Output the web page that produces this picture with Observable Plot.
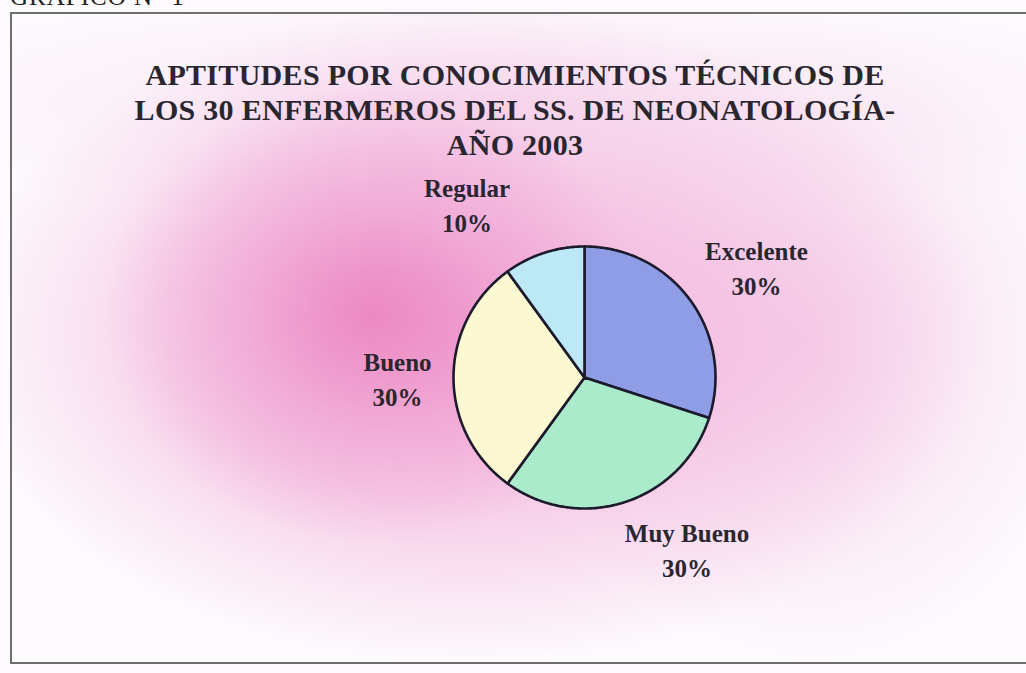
<!DOCTYPE html>
<html>
<head>
<meta charset="utf-8">
<script src="https://cdn.jsdelivr.net/npm/d3@7"></script>
<script src="https://cdn.jsdelivr.net/npm/@observablehq/plot@0.6"></script>
<style>
  html, body { margin: 0; padding: 0; background: #fff; }
  #page { position: relative; width: 1026px; height: 673px; overflow: hidden; background: #fdfafd; }
  #bg { position: absolute; left: 12px; top: 14px; width: 1020px; height: 650px;
    background:
      radial-gradient(ellipse 270px 230px at 360px 300px, rgba(234,125,188,0.8) 0%, rgba(238,150,205,0.5) 50%, rgba(244,190,225,0) 100%),
      radial-gradient(ellipse 520px 330px at 460px 320px, rgba(240,158,208,0.85) 0%, rgba(243,180,220,0.65) 50%, rgba(250,228,243,0) 100%),
      radial-gradient(ellipse 280px 320px at 800px 330px, rgba(242,190,225,0.55) 0%, rgba(250,228,244,0) 100%),
      radial-gradient(ellipse 700px 120px at 500px 90px, rgba(246,215,238,0.5) 0%, rgba(250,235,246,0) 100%);
  }
  #frame { position: absolute; left: 10px; top: 12px; width: 1030px; height: 652px; border: 2px solid #6e6e6e; box-sizing: border-box; }
  #gnum { position: absolute; left: 10px; top: -17px; font-family: "Liberation Serif", serif; font-size: 25px; color: #222; letter-spacing: 1px; }
  #title { position: absolute; left: 0; width: 1030px; top: 57px; text-align: center; font-family: "Liberation Serif", serif; font-weight: bold; font-size: 30px; line-height: 35px; letter-spacing: 0.3px; color: #2a2630; }
  #chart { position: absolute; left: 0; top: 0; }
</style>
</head>
<body>
<div id="page">
  <div id="bg"></div>
  <div id="gnum">GRÁFICO N° 1</div>
  <div id="frame"></div>
  <div id="title">APTITUDES POR CONOCIMIENTOS TÉCNICOS DE<br>LOS 30 ENFERMEROS DEL SS. DE NEONATOLOGÍA-<br>AÑO 2003</div>
  <div id="chart"></div>
</div>
<script>
// ---- data ----
const categories = ["Excelente", "Muy Bueno", "Bueno", "Regular"];
const percentages = [30, 30, 30, 10];

// ---- style / layout (not data) ----
const sliceColors = ["#8f9de6", "#a9ebcb", "#fcf9d2", "#bde9f6"];
const labelAngleNudge = [3, -13, 0, -16];   // degrees
const labelRadius = [205, 199, 187, 210];     // px units
const pieRadius = 131;

const W = 1026, H = 673, CX = 584, CY = 377;

const pie = d3.pie().sort(null).value(d => d.value);
const arcs = pie(categories.map((c, i) => ({cat: c, value: percentages[i]})));

// polygon outline for each slice (geometry of the arc)
const polys = [];
arcs.forEach(a => {
  const cat = a.data.cat;
  polys.push({cat, x: 0, y: 0});
  const n = Math.max(8, Math.ceil((a.endAngle - a.startAngle) / 0.01));
  for (let k = 0; k <= n; k++) {
    const t = a.startAngle + (a.endAngle - a.startAngle) * k / n;
    polys.push({cat, x: pieRadius * Math.sin(t), y: pieRadius * Math.cos(t)});
  }
  polys.push({cat, x: 0, y: 0});
});

const labels = arcs.map((a, i) => {
  const mid = (a.startAngle + a.endAngle) / 2 + labelAngleNudge[i] * Math.PI / 180;
  return {
    text: `${a.data.cat}\n${a.data.value}%`,
    x: labelRadius[i] * Math.sin(mid),
    y: labelRadius[i] * Math.cos(mid)
  };
});

const chart = Plot.plot({
  width: W,
  height: H,
  margin: 0,
  style: {background: "transparent", overflow: "visible"},
  x: {domain: [-CX, W - CX], axis: null},
  y: {domain: [-(H - CY), CY], axis: null},
  color: {domain: categories, range: sliceColors},
  marks: [
    Plot.line(polys, {x: "x", y: "y", z: "cat", fill: "cat", stroke: "#1c1a2c", strokeWidth: 2.6, curve: "linear", strokeLinejoin: "round"}),
    Plot.text(labels, {x: "x", y: "y", text: "text", fontFamily: "Liberation Serif", fontWeight: "bold", fontSize: 25, lineHeight: 1.4, fill: "#2a2630", lineAnchor: "middle", letterSpacing: "0.8px"})
  ]
});
document.getElementById("chart").appendChild(chart);
</script>
</body>
</html>
